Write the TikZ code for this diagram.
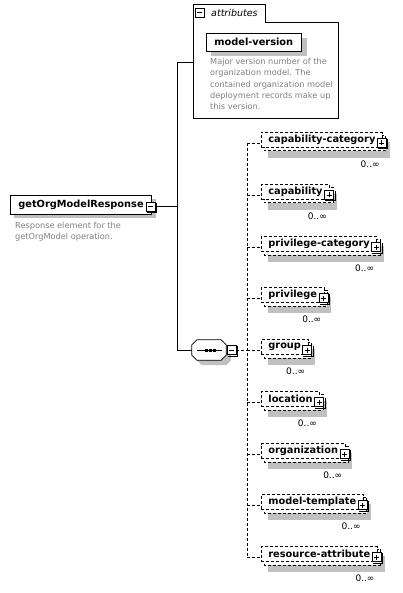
\documentclass[tikz,border=0pt]{standalone}
\usepackage{fontspec}
\setmainfont{DejaVu Sans}
\usetikzlibrary{calc,backgrounds}
\definecolor{shd}{RGB}{192,192,192}
\definecolor{txtgray}{RGB}{128,128,128}
\tikzset{
  ln/.style={line width=0.8pt},
  dsh/.style={line width=0.8pt, dash pattern=on 3pt off 2pt},
  elem/.style={draw, line width=0.8pt, fill=white, font=\fontsize{9.8}{11}\selectfont\bfseries,
    inner xsep=7pt, inner ysep=0pt, minimum height=15pt, anchor=west},
  optelem/.style={elem, dash pattern=on 3pt off 2pt},
  pmbox/.style={draw, solid, line width=0.8pt, fill=white, minimum size=9pt, inner sep=0pt},
  plusbox/.style={pmbox, path picture={\draw[line width=0.8pt]
      ($(path picture bounding box.west)+(2,0)$) -- ($(path picture bounding box.east)+(-2,0)$)
      ($(path picture bounding box.north)+(0,2)$) -- ($(path picture bounding box.south)+(0,-2)$);}},
  minusbox/.style={pmbox, path picture={\draw[line width=0.8pt]
      ($(path picture bounding box.west)+(2,0)$) -- ($(path picture bounding box.east)+(-2,0)$);}},
  desc/.style={font=\fontsize{8.2}{11.3}\selectfont, text=txtgray, align=left, inner sep=0pt, anchor=north west},
  mult/.style={font=\fontsize{9}{10}\selectfont, inner sep=0pt, anchor=east},
}
\newcommand\boxedge[1]{\draw[ln] ($(#1.north east)+(1,1)$) -- ($(#1.south east)+(1,1)$) -- ($(#1.south west)+(1,1)$);}
\newcommand\childel[3]{%
  \coordinate (b#1) at (247,#3);
  \node[optelem] (#1) at (261,#3-3) {#2\hspace{9pt}};
  \begin{scope}[on background layer]
    \fill[shd] ($(#1.north west)+(7,10)$) rectangle ($(#1.south east)+(7,10)$);
    \draw[dsh, fill=white] ($(#1.north west)+(3,3)$) rectangle ($(#1.south east)+(3,3)$);
  \end{scope}
  \node[plusbox] (#1p) at ($(#1.east)+(-1,3)$) {};
  \boxedge{#1p}
  \node[mult] (#1m) at ($(#1.south east)+(-3,16)$) {0..∞};
  \draw[dsh] (b#1) -- (b#1 -| #1.west);
}
\newcommand\octpts[2]{($(seq.north west)+(#1,#2+5)$) -- ($(seq.north west)+(#1+5,#2)$) -- ($(seq.north east)+(#1-5,#2)$) -- ($(seq.north east)+(#1,#2+5)$) -- ($(seq.south east)+(#1,#2-5)$) -- ($(seq.south east)+(#1-5,#2)$) -- ($(seq.south west)+(#1+5,#2)$) -- ($(seq.south west)+(#1,#2-5)$) -- cycle}
\begin{document}
\begin{tikzpicture}[x=1pt,y=-1pt]
\useasboundingbox (0,0) rectangle (402,593);

% main element
\node[elem, inner xsep=8pt, minimum height=19pt] (main) at (10,204.5) {getOrgModelResponse\hspace{9pt}};
\begin{scope}[on background layer]
  \fill[white] (0,0) rectangle (402,593);
  \fill[shd] ($(main.north west)+(4,4)$) rectangle ($(main.south east)+(4,4)$);
\end{scope}
\node[minusbox] (mainm) at ($(main.east)+(-1.5,2)$) {};
\boxedge{mainm}
\node[desc] (maindesc) at (15,222) {Response element for the\\getOrgModel operation.};

% attributes container
\node[minimum width=72pt, minimum height=17pt, inner sep=0pt, anchor=south west] (tab) at (193,22) {};
\node[minimum width=145pt, minimum height=96pt, inner sep=0pt, anchor=north west] (abox) at (193,22) {};
\draw[ln] (abox.south west) -- (tab.north west) -- (tab.north east) -- (tab.south east) -- (abox.north east) -- (abox.south east) -- cycle;
\node[minusbox] (tabm) at (199.5,12.5) {};
\node[font=\fontsize{9.5}{11}\selectfont\itshape, anchor=west, inner sep=0pt] (tabt) at (211,13) {attributes};
\node[elem, inner xsep=8pt, minimum height=18pt] (mv) at (206,42) {model-version};
\begin{scope}[on background layer]
  \fill[shd] ($(mv.north west)+(5,5)$) rectangle ($(mv.south east)+(5,5)$);
\end{scope}
\node[desc] (mvdesc) at (210,58) {Major version number of the\\organization model. The\\contained organization model\\deployment records make up\\this version.};

% sequence compositor
\node[minimum width=34pt, minimum height=20pt, inner sep=0pt] (seq) at (209,350) {};
\begin{scope}[on background layer]
  \fill[shd] \octpts{5}{5};
\end{scope}
\draw[ln, fill=white] \octpts{0}{0};
\draw[ln] ($(seq.west)+(5,0)$) -- ($(seq.east)+(-4,0)$);
\foreach \dx in {-4,0,4} \fill ($(seq.center)+(\dx-0.5,-1.5)$) rectangle ++(3,3);
\node[minusbox] (seqm) at (231.5,350) {};
\boxedge{seqm}

% main connectors
\coordinate (jt) at (177,62);
\coordinate (jb) at (177,350);
\draw[ln] (mainm.east) -- (mainm.east -| jt);
\draw[ln] (jt) -- (jb);
\draw[ln] (jt) -- (jt -| abox.west);
\draw[ln] (jb) -- (seq.west);

% bus
\coordinate (bt) at (247,143);
\coordinate (bb) at (247,557);
\draw[dsh] (bt) -- (bb);
\draw[dsh] (seqm.east) -- (seqm.east -| bt);

\childel{c1}{capability-category}{143}
\childel{c2}{capability}{195}
\childel{c3}{privilege-category}{247}
\childel{c4}{privilege}{298}
\childel{c5}{group}{350}
\childel{c6}{location}{402}
\childel{c7}{organization}{454}
\childel{c8}{model-template}{505}
\childel{c9}{resource-attribute}{557}
\end{tikzpicture}
\end{document}
